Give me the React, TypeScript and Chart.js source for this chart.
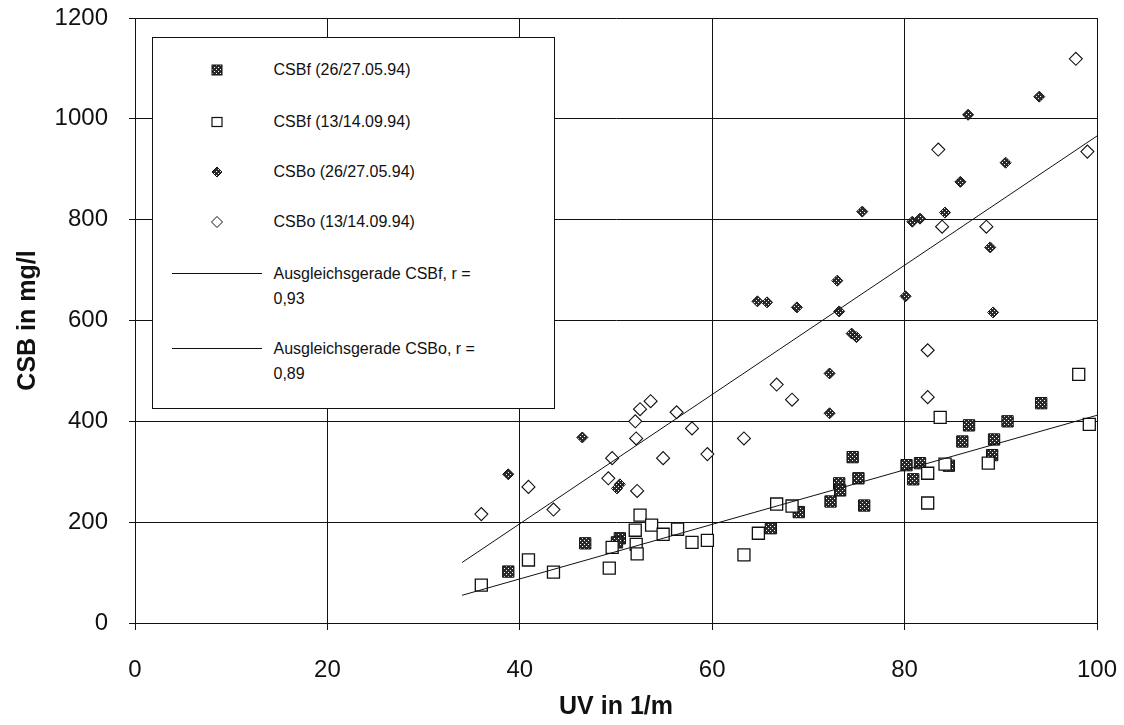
import React, { useEffect, useRef } from "react";
import { Chart, registerables } from "chart.js";

Chart.register(...registerables);

// CSBf (26/27.05.94) – filled squares
const csbfMayX = [38.8, 46.8, 50.4, 50.1, 66.1, 69.0, 72.3, 73.2, 73.3, 75.2, 74.6, 75.8, 80.2, 81.6, 80.9, 84.6, 86.0, 86.7, 89.3, 89.1, 90.7, 94.2];
const csbfMayY = [102, 158, 168, 160, 188, 220, 241, 277, 263, 287, 329, 233, 313, 317, 285, 312, 360, 392, 364, 333, 400, 436];

// CSBf (13/14.09.94) – open squares
const csbfSepX = [36.0, 40.9, 43.5, 52.5, 52.0, 53.7, 49.6, 49.3, 52.1, 52.2, 54.9, 56.4, 57.9, 59.5, 63.3, 64.8, 66.7, 68.3, 82.4, 82.4, 83.7, 84.2, 88.7, 98.1, 99.2];
const csbfSepY = [75, 125, 101, 214, 184, 194, 150, 109, 156, 137, 176, 186, 160, 164, 135, 178, 236, 232, 297, 238, 408, 315, 317, 493, 394];

// CSBo (26/27.05.94) – filled diamonds
const csboMayX = [38.8, 46.5, 50.4, 50.1, 72.2, 72.2, 94.0, 86.6, 90.5, 85.8, 84.2, 81.6, 80.8, 75.6, 88.9, 73.0, 64.7, 65.7, 68.8, 73.2, 80.1, 89.2, 74.5, 75.0];
const csboMayY = [295, 368, 275, 267, 495, 416, 1044, 1008, 913, 875, 814, 802, 796, 816, 745, 679, 638, 636, 626, 618, 648, 616, 574, 567];

// CSBo (13/14.09.94) – open diamonds
const csboSepX = [36.0, 40.9, 43.5, 49.6, 49.2, 52.2, 52.0, 52.1, 52.5, 53.6, 54.9, 56.3, 57.9, 59.5, 63.3, 66.7, 68.3, 82.4, 82.4, 97.8, 99.0, 83.5, 83.9, 88.5];
const csboSepY = [216, 270, 225, 327, 287, 262, 400, 366, 424, 440, 327, 418, 386, 335, 366, 473, 443, 448, 541, 1119, 935, 939, 786, 786];

// Regression lines
const fitX = [34, 100];
const fitCsbfY = [55, 412];
const fitCsboY = [120, 966];

const xTicks = [0, 20, 40, 60, 80, 100];
const yTicks = [0, 200, 400, 600, 800, 1000, 1200];

const legendLabels = [
  "CSBf (26/27.05.94)",
  "CSBf (13/14.09.94)",
  "CSBo (26/27.05.94)",
  "CSBo (13/14.09.94)",
];
const fitLabels = [
  ["Ausgleichsgerade CSBf, r =", "0,93"],
  ["Ausgleichsgerade CSBo, r =", "0,89"],
];

const FONT = "'Liberation Sans', Arial, sans-serif";
const INK = "#111";

const pts = (xs: number[], ys: number[]) => xs.map((x, i) => ({ x, y: ys[i] }));

function makePattern(): CanvasPattern | string {
  const c = document.createElement("canvas");
  c.width = 4;
  c.height = 4;
  const g = c.getContext("2d");
  if (!g) return "#333";
  g.fillStyle = "#2a2a2a";
  g.fillRect(0, 0, 4, 4);
  g.fillStyle = "#ffffff";
  g.fillRect(0, 0, 1, 1);
  g.fillRect(2, 2, 1, 1);
  const p = g.createPattern(c, "repeat");
  return p || "#333";
}

function Marker({ kind }: { kind: number }) {
  const pat = (
    <defs>
      <pattern id={"chk" + kind} width="4" height="4" patternUnits="userSpaceOnUse">
        <rect width="4" height="4" fill="#2a2a2a" />
        <rect x="0" y="0" width="1" height="1" fill="#fff" />
        <rect x="2" y="2" width="1" height="1" fill="#fff" />
      </pattern>
    </defs>
  );
  if (kind === 0)
    return (
      <svg width="14" height="14">
        {pat}
        <rect x="2" y="2" width="10" height="10" fill={"url(#chk0)"} stroke={INK} strokeWidth="1" />
      </svg>
    );
  if (kind === 1)
    return (
      <svg width="14" height="14">
        <rect x="2" y="2.5" width="10" height="9" fill="#fff" stroke={INK} strokeWidth="1.2" />
      </svg>
    );
  if (kind === 2)
    return (
      <svg width="14" height="14">
        {pat}
        <polygon points="7,2 12,7 7,12 2,7" fill={"url(#chk2)"} stroke={INK} strokeWidth="1" />
      </svg>
    );
  return (
    <svg width="14" height="14">
      <polygon points="7,1.5 12.5,7 7,12.5 1.5,7" fill="#fff" stroke={INK} strokeWidth="1" />
    </svg>
  );
}

export default function App() {
  const ref = useRef<HTMLCanvasElement | null>(null);

  useEffect(() => {
    if (!ref.current) return;
    const pattern = makePattern();
    const chart = new Chart(ref.current, {
      type: "scatter",
      data: {
        datasets: [
          {
            type: "line",
            label: "Ausgleichsgerade CSBf, r = 0,93",
            data: pts(fitX, fitCsbfY),
            borderColor: INK,
            borderWidth: 1,
            pointRadius: 0,
            showLine: true,
            fill: false,
          } as any,
          {
            type: "line",
            label: "Ausgleichsgerade CSBo, r = 0,89",
            data: pts(fitX, fitCsboY),
            borderColor: INK,
            borderWidth: 1,
            pointRadius: 0,
            showLine: true,
            fill: false,
          } as any,
          {
            label: legendLabels[1],
            data: pts(csbfSepX, csbfSepY),
            pointStyle: "rect",
            pointRadius: 8.5,
            backgroundColor: "#fff",
            borderColor: INK,
            borderWidth: 1.3,
          },
          {
            label: legendLabels[0],
            data: pts(csbfMayX, csbfMayY),
            pointStyle: "rect",
            pointRadius: 8,
            backgroundColor: pattern as any,
            borderColor: INK,
            borderWidth: 1,
          },
          {
            label: legendLabels[3],
            data: pts(csboSepX, csboSepY),
            pointStyle: "rectRot",
            pointRadius: 6.5,
            backgroundColor: "#fff",
            borderColor: INK,
            borderWidth: 1.1,
          },
          {
            label: legendLabels[2],
            data: pts(csboMayX, csboMayY),
            pointStyle: "rectRot",
            pointRadius: 5.5,
            backgroundColor: pattern as any,
            borderColor: INK,
            borderWidth: 1,
          },
        ],
      },
      options: {
        responsive: false,
        animation: false,
        events: [],
        layout: { padding: 0 },
        plugins: { legend: { display: false }, tooltip: { enabled: false } },
        scales: {
          x: {
            type: "linear",
            min: 0,
            max: 100,
            afterBuildTicks: (s: any) => {
              s.ticks = xTicks.map((v) => ({ value: v }));
            },
            afterFit: (s: any) => {
              s.height = 102;
              s.paddingLeft = 0;
              s.paddingRight = 27;
            },
            ticks: { font: { family: FONT, size: 24 }, color: INK, padding: 26, callback: (v: any) => String(v) },
            grid: { color: INK, lineWidth: 1, tickLength: 7 },
            border: { color: INK, width: 1 },
            title: {
              display: true,
              text: "UV in 1/m",
              font: { family: FONT, size: 25, weight: "bold" },
              color: INK,
              padding: { top: 0, bottom: 3 },
            },
          },
          y: {
            type: "linear",
            min: 0,
            max: 1200,
            afterBuildTicks: (s: any) => {
              s.ticks = yTicks.map((v) => ({ value: v }));
            },
            afterFit: (s: any) => {
              s.width = 135;
              s.paddingTop = 18;
              s.paddingBottom = 0;
            },
            ticks: { font: { family: FONT, size: 24 }, color: INK, padding: 21, callback: (v: any) => String(v) },
            grid: { color: INK, lineWidth: 1, tickLength: 6 },
            border: { color: INK, width: 1 },
            title: {
              display: true,
              text: "CSB in mg/l",
              font: { family: FONT, size: 25, weight: "bold" },
              color: INK,
              padding: { top: 13, bottom: 0 },
            },
          },
        },
      },
    });
    return () => chart.destroy();
  }, []);

  const rowY = [70, 122, 172, 222];
  return (
    <div style={{ position: "fixed", left: 0, top: 0, width: 1124, height: 725, background: "#fff" }}>
      <canvas ref={ref} width={1124} height={725} style={{ display: "block" }} />
      <div
        style={{
          position: "absolute",
          left: 152,
          top: 37,
          width: 401,
          height: 370,
          border: `1.5px solid ${INK}`,
          background: "#fff",
          fontFamily: FONT,
          fontSize: 16,
          color: INK,
        }}
      >
        {legendLabels.map((t, i) => (
          <React.Fragment key={t}>
            <div style={{ position: "absolute", left: 217 - 152 - 7 - 1.5, top: rowY[i] - 37 - 7 - 1.5, width: 14, height: 14 }}>
              <Marker kind={i} />
            </div>
            <div style={{ position: "absolute", left: 274 - 152 - 1.5, top: rowY[i] - 37 - 10 - 1.5, lineHeight: "20px", whiteSpace: "nowrap" }}>
              {t}
            </div>
          </React.Fragment>
        ))}
        {fitLabels.map((lines, i) => {
          const y = i === 0 ? 273 : 348;
          return (
            <React.Fragment key={lines[0]}>
              <div style={{ position: "absolute", left: 172 - 152 - 1.5, top: y - 37 - 1.5, width: 90, height: 0, borderTop: `1px solid ${INK}` }} />
              <div style={{ position: "absolute", left: 274 - 152 - 1.5, top: y - 37 - 12 - 1.5, lineHeight: "25px", whiteSpace: "nowrap" }}>
                <div>{lines[0]}</div>
                <div>{lines[1]}</div>
              </div>
            </React.Fragment>
          );
        })}
      </div>
    </div>
  );
}
